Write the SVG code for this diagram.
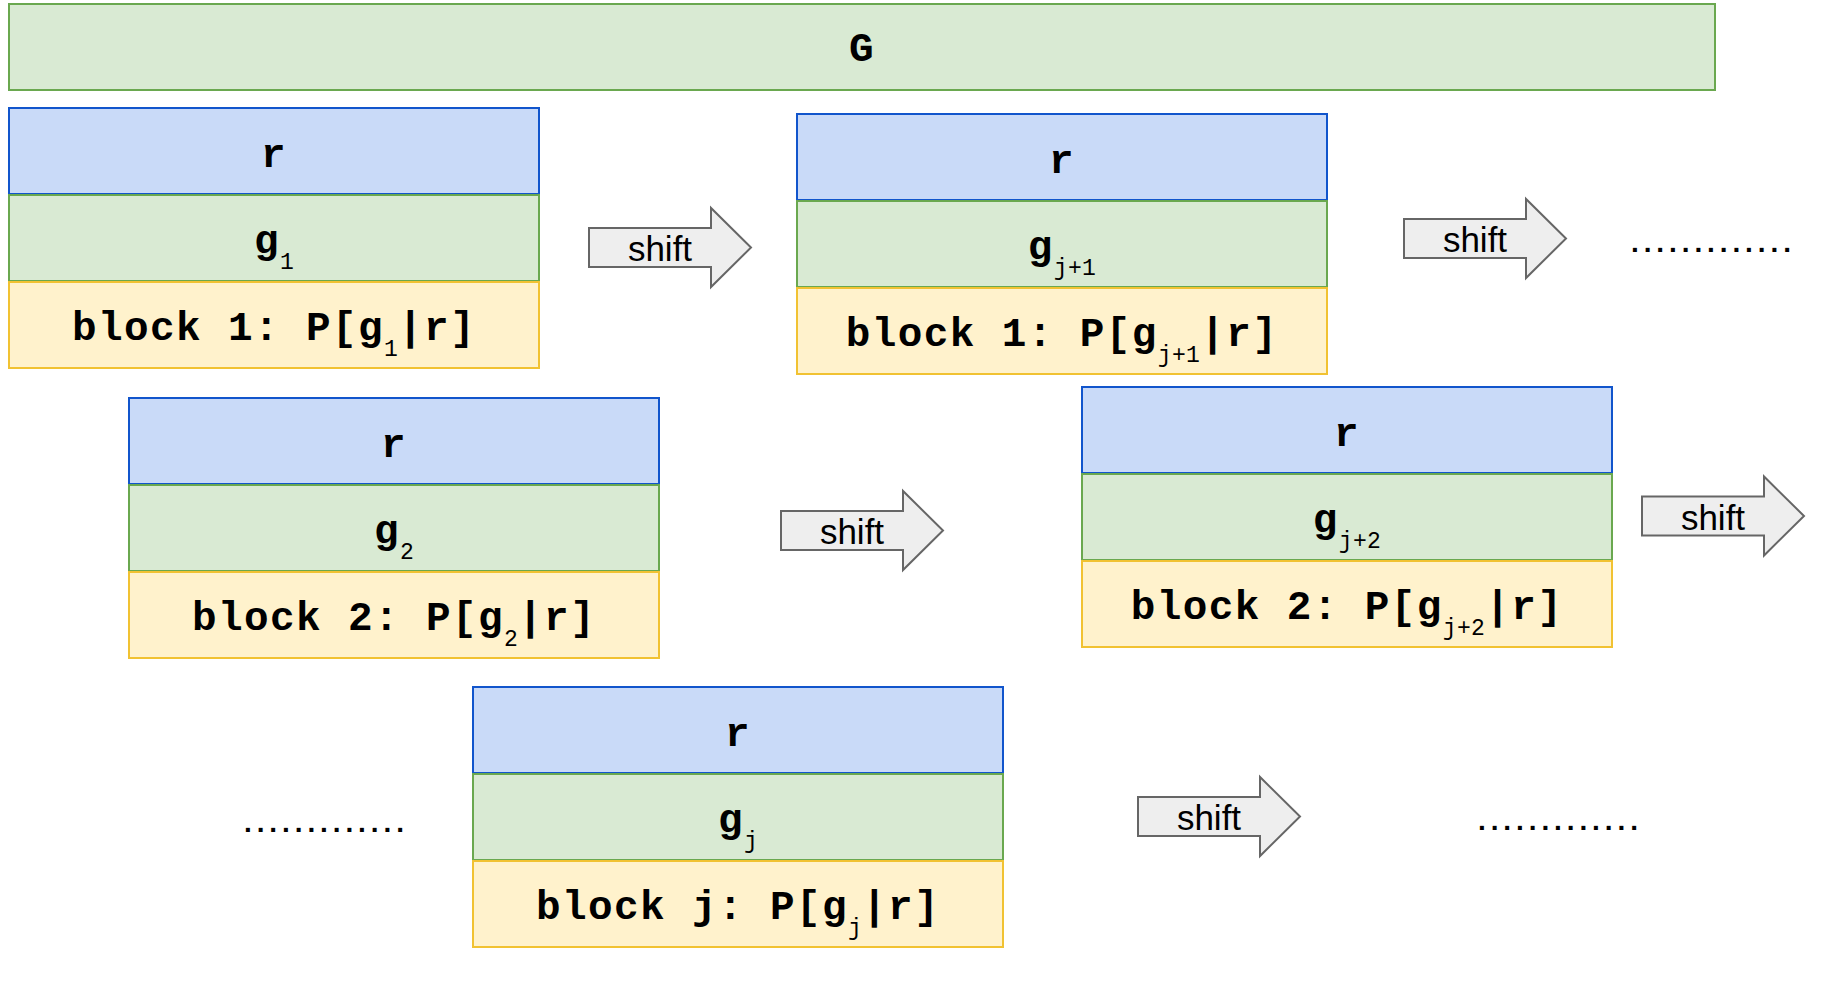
<svg xmlns="http://www.w3.org/2000/svg" xmlns:xlink="http://www.w3.org/1999/xlink" width="1826" height="1007" viewBox="0 0 1826 1007">
  <style>
    .bg { fill: #ffffff; }
    .cell-r { fill: #c9daf8; stroke: #1155cc; stroke-width: 2; }
    .cell-g { fill: #d9ead3; stroke: #6aa84f; stroke-width: 2; }
    .cell-p { fill: #fff2cc; stroke: #f1c232; stroke-width: 2; }
    .mono { font-family: "Liberation Mono", "Courier New", monospace; font-weight: bold; font-size: 41px; letter-spacing: 1.4px; fill: #000000; text-anchor: middle; }
    .sub { font-family: "Liberation Mono", "Courier New", monospace; font-weight: normal; font-size: 23px; letter-spacing: 0.3px; }
    .shift-shape { fill: #eeeeee; stroke: #666666; stroke-width: 2; stroke-linejoin: miter; }
    .shift-label { font-family: "Liberation Sans", Arial, sans-serif; font-size: 35px; fill: #000000; text-anchor: middle; }
    .dots { font-family: "Liberation Sans", Arial, sans-serif; font-weight: bold; font-size: 28px; letter-spacing: 4.9px; fill: #000000; }
  </style>
  <defs>
    <!-- block arrow, origin at the tail's left edge, vertically centred -->
    <path id="shiftArrow" class="shift-shape" d="M0,-19.5 H122 V-39.5 L162,0 L122,39.5 V19.5 H0 Z"/>
  </defs>

  <rect class="bg" x="0" y="0" width="1826" height="1007"/>

  <!-- full sequence G -->
  <g id="node-G">
    <rect class="cell-g" x="9" y="4" width="1706" height="86"/>
    <text class="mono" x="862" y="61">G</text>
  </g>

  <!-- block 1 at step 1 -->
  <g id="node-block1-g1">
    <rect class="cell-r" x="9" y="108" width="530" height="86"/>
    <rect class="cell-g" x="9" y="195" width="530" height="86"/>
    <rect class="cell-p" x="9" y="282" width="530" height="86"/>
    <text class="mono" x="274" y="167">r</text>
    <text class="mono" x="274" y="253">g<tspan class="sub" dy="16">1</tspan></text>
    <text class="mono" x="274" y="340">block 1: P[g<tspan class="sub" dy="16">1</tspan><tspan dy="-16">|r]</tspan></text>
  </g>

  <!-- block 1 at step j+1 -->
  <g id="node-block1-gj1">
    <rect class="cell-r" x="797" y="114" width="530" height="86"/>
    <rect class="cell-g" x="797" y="201" width="530" height="86"/>
    <rect class="cell-p" x="797" y="288" width="530" height="86"/>
    <text class="mono" x="1062" y="173">r</text>
    <text class="mono" x="1062" y="259">g<tspan class="sub" dy="16">j+1</tspan></text>
    <text class="mono" x="1062" y="346">block 1: P[g<tspan class="sub" dy="16">j+1</tspan><tspan dy="-16">|r]</tspan></text>
  </g>

  <!-- block 2 at step 2 -->
  <g id="node-block2-g2">
    <rect class="cell-r" x="129" y="398" width="530" height="86"/>
    <rect class="cell-g" x="129" y="485" width="530" height="86"/>
    <rect class="cell-p" x="129" y="572" width="530" height="86"/>
    <text class="mono" x="394" y="457">r</text>
    <text class="mono" x="394" y="543">g<tspan class="sub" dy="16">2</tspan></text>
    <text class="mono" x="394" y="630">block 2: P[g<tspan class="sub" dy="16">2</tspan><tspan dy="-16">|r]</tspan></text>
  </g>

  <!-- block 2 at step j+2 -->
  <g id="node-block2-gj2">
    <rect class="cell-r" x="1082" y="387" width="530" height="86"/>
    <rect class="cell-g" x="1082" y="474" width="530" height="86"/>
    <rect class="cell-p" x="1082" y="561" width="530" height="86"/>
    <text class="mono" x="1347" y="446">r</text>
    <text class="mono" x="1347" y="532">g<tspan class="sub" dy="16">j+2</tspan></text>
    <text class="mono" x="1347" y="619">block 2: P[g<tspan class="sub" dy="16">j+2</tspan><tspan dy="-16">|r]</tspan></text>
  </g>

  <!-- block j -->
  <g id="node-blockj-gj">
    <rect class="cell-r" x="473" y="687" width="530" height="86"/>
    <rect class="cell-g" x="473" y="774" width="530" height="86"/>
    <rect class="cell-p" x="473" y="861" width="530" height="86"/>
    <text class="mono" x="738" y="746">r</text>
    <text class="mono" x="738" y="832">g<tspan class="sub" dy="16">j</tspan></text>
    <text class="mono" x="738" y="919">block j: P[g<tspan class="sub" dy="16">j</tspan><tspan dy="-16">|r]</tspan></text>
  </g>

  <!-- ellipses -->
  <g id="node-dots-top">
    <text class="dots" x="1631" y="252">.............</text>
  </g>
  <g id="node-dots-left">
    <text class="dots" x="244" y="832">.............</text>
  </g>
  <g id="node-dots-bottom">
    <text class="dots" x="1478" y="830">.............</text>
  </g>

  <!-- shift arrows -->
  <g id="connectors">
    <g id="shift-1">
      <use xlink:href="#shiftArrow" href="#shiftArrow" x="589" y="247.5"/>
      <text class="shift-label" x="660" y="261">shift</text>
    </g>
    <g id="shift-2">
      <use xlink:href="#shiftArrow" href="#shiftArrow" x="1404" y="238.5"/>
      <text class="shift-label" x="1475" y="252">shift</text>
    </g>
    <g id="shift-3">
      <use xlink:href="#shiftArrow" href="#shiftArrow" x="781" y="530.5"/>
      <text class="shift-label" x="852" y="544">shift</text>
    </g>
    <g id="shift-4">
      <use xlink:href="#shiftArrow" href="#shiftArrow" x="1642" y="516"/>
      <text class="shift-label" x="1713" y="530">shift</text>
    </g>
    <g id="shift-5">
      <use xlink:href="#shiftArrow" href="#shiftArrow" x="1138" y="816.5"/>
      <text class="shift-label" x="1209" y="830">shift</text>
    </g>
  </g>
</svg>
